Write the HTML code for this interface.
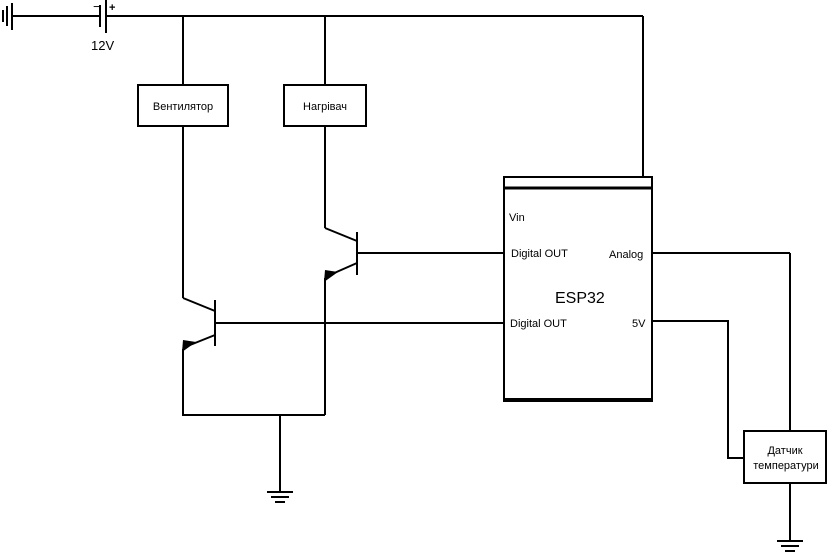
<!DOCTYPE html>
<html><head><meta charset="utf-8"><style>
body{margin:0;background:#fff;}
svg{display:block;font-family:"Liberation Sans",sans-serif;}
</style></head><body>
<svg width="833" height="554" viewBox="0 0 833 554" xmlns="http://www.w3.org/2000/svg" font-size="11">
<g stroke="#000" stroke-width="2" fill="none">
<line x1="3" y1="10" x2="3" y2="22"/>
<line x1="7" y1="6" x2="7" y2="26"/>
<line x1="12" y1="3" x2="12" y2="30"/>
<line x1="12" y1="16" x2="100" y2="16"/>
<line x1="100" y1="5" x2="100" y2="27"/>
<line x1="106" y1="0" x2="106" y2="33"/>
<line x1="106" y1="16" x2="643" y2="16"/>
<line x1="643" y1="16" x2="643" y2="177"/>
<line x1="183" y1="16" x2="183" y2="85"/>
<line x1="325" y1="16" x2="325" y2="85"/>
<rect x="138" y="85" width="90" height="41"/>
<rect x="284" y="85" width="82" height="41"/>
<line x1="183" y1="126" x2="183" y2="298"/>
<polyline points="183,298 215,311"/>
<line x1="215" y1="300" x2="215" y2="346"/>
<line x1="215" y1="323" x2="504" y2="323"/>
<line x1="215" y1="335" x2="190" y2="345"/>
<polyline points="183,349 183,415 325,415"/>
<line x1="325" y1="126" x2="325" y2="228"/>
<line x1="325" y1="228" x2="357" y2="241"/>
<line x1="357" y1="232" x2="357" y2="275"/>
<line x1="357" y1="253" x2="504" y2="253"/>
<line x1="357" y1="263" x2="332" y2="274"/>
<line x1="325" y1="278" x2="325" y2="415"/>
<line x1="280" y1="415" x2="280" y2="492"/>
<line x1="267" y1="492" x2="293" y2="492"/>
<line x1="271" y1="497" x2="289" y2="497"/>
<line x1="275" y1="502" x2="285" y2="502"/>
<rect x="504" y="177" width="148" height="224"/>
<line x1="504" y1="188" x2="652" y2="188" stroke-width="3"/>
<line x1="504" y1="399" x2="652" y2="399"/>
<line x1="652" y1="253" x2="790" y2="253"/>
<line x1="790" y1="253" x2="790" y2="431"/>
<polyline points="652,321 728,321 728,458 744,458"/>
<rect x="744" y="431" width="82" height="52"/>
<line x1="790" y1="483" x2="790" y2="541"/>
<line x1="777" y1="541" x2="803" y2="541"/>
<line x1="781" y1="546" x2="799" y2="546"/>
<line x1="785" y1="551" x2="795" y2="551"/>
</g>
<polygon points="182,352 183,340 196,342" fill="#000"/>
<polygon points="324,282 325,270 338,272" fill="#000"/>
<text x="93" y="11" font-size="13">−</text>
<text x="109" y="11" font-size="11" font-weight="bold">+</text>
<text x="91" y="50" font-size="13">12V</text>
<text x="183" y="110" text-anchor="middle">Вентилятор</text>
<text x="325" y="110" text-anchor="middle">Нагрівач</text>
<text x="509" y="221">Vin</text>
<text x="511" y="257">Digital OUT</text>
<text x="609" y="258">Analog</text>
<text x="555" y="303" font-size="16">ESP32</text>
<text x="510" y="327">Digital OUT</text>
<text x="632" y="327">5V</text>
<text x="785" y="454" text-anchor="middle">Датчик</text>
<text x="786" y="469" text-anchor="middle">температури</text>
</svg>
</body></html>
